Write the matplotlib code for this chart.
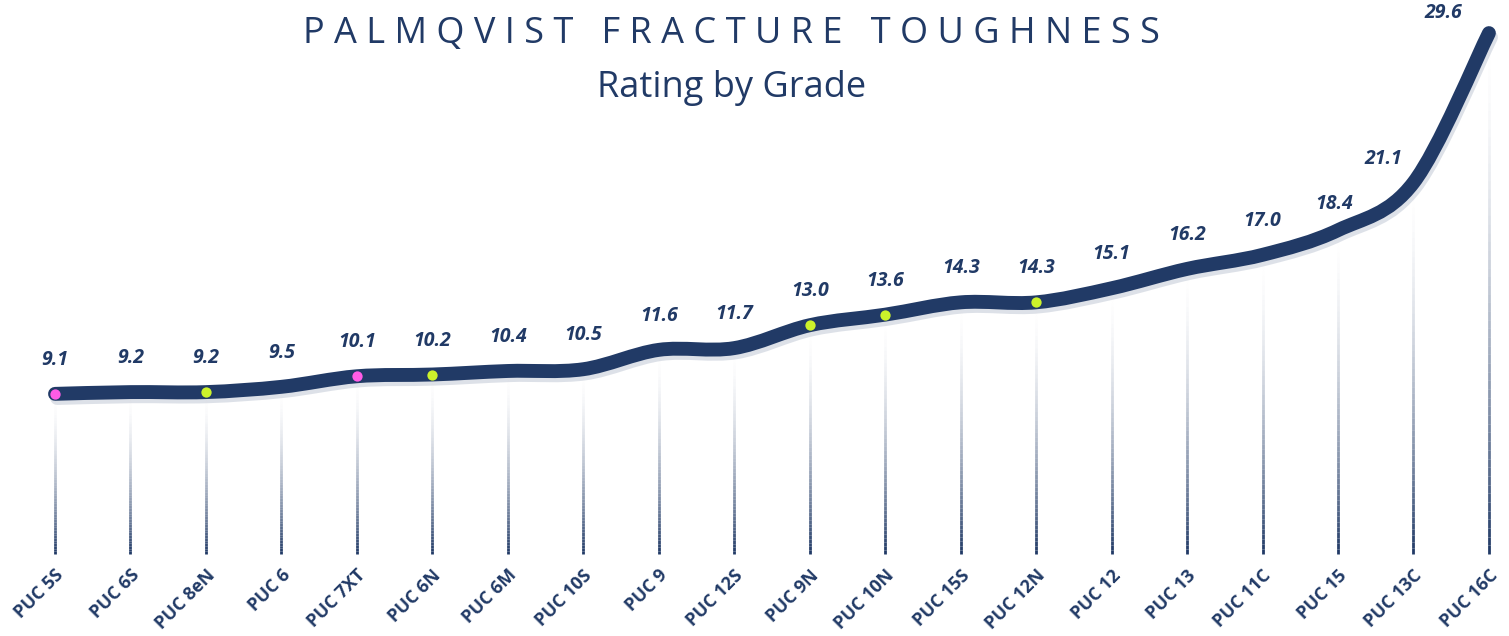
import matplotlib.pyplot as plt
import matplotlib.patheffects as pe
from matplotlib.path import Path
from matplotlib.patches import PathPatch
from matplotlib.collections import LineCollection
import numpy as np

# Palmqvist fracture toughness by grade
grades = ['PUC 5S', 'PUC 6S', 'PUC 8eN', 'PUC 6', 'PUC 7XT', 'PUC 6N', 'PUC 6M',
          'PUC 10S', 'PUC 9', 'PUC 12S', 'PUC 9N', 'PUC 10N', 'PUC 15S', 'PUC 12N',
          'PUC 12', 'PUC 13', 'PUC 11C', 'PUC 15', 'PUC 13C', 'PUC 16C']
toughness = [9.1, 9.2, 9.2, 9.5, 10.1, 10.2, 10.4, 10.5, 11.6, 11.7,
             13.0, 13.6, 14.3, 14.3, 15.1, 16.2, 17.0, 18.4, 21.1, 29.6]
pink_marks = [0, 4]
green_marks = [2, 5, 10, 11, 13]

navy = '#213a66'
pink = '#ff5ce6'
lime = '#ccf22b'
fonts = ['Open Sans', 'DejaVu Sans']

fig = plt.figure(figsize=(15.09, 6.36), dpi=100)
ax = fig.add_axes([0, 0, 1, 1])
ax.set_xlim(-0.729, 19.266)
ax.set_ylim(-4.659, 31.48)
ax.axis('off')

x = np.arange(len(toughness))
y = np.array(toughness)

# faded drop lines from the baseline up to each point
for xi, yi in zip(x, y):
    n = 60
    ys = np.linspace(0, yi, n + 1)
    segs = [[(xi, ys[k]), (xi, ys[k + 1])] for k in range(n)]
    alphas = np.linspace(1, 0, n) ** 1.8
    cols = [(0x21 / 255, 0x3a / 255, 0x66 / 255, a) for a in alphas]
    ax.add_collection(LineCollection(segs, colors=cols, linewidths=2, zorder=1))

# smooth line (catmull-rom -> bezier)
pts = np.column_stack([x, y]).astype(float)
verts = [tuple(pts[0])]
codes = [Path.MOVETO]
for i in range(len(pts) - 1):
    p0 = pts[i - 1] if i > 0 else pts[i]
    p1, p2 = pts[i], pts[i + 1]
    p3 = pts[i + 2] if i + 2 < len(pts) else pts[i + 1]
    c1 = p1 + (p2 - p0) / 6
    c2 = p2 - (p3 - p1) / 6
    verts += [tuple(c1), tuple(c2), tuple(p2)]
    codes += [Path.CURVE4] * 3
curve = PathPatch(Path(verts, codes), facecolor='none', edgecolor=navy, lw=10,
                  capstyle='round', joinstyle='round', zorder=3)
curve.set_path_effects([pe.SimpleLineShadow(offset=(1.5, -3), alpha=0.15, shadow_color=navy),
                        pe.Normal()])
ax.add_patch(curve)

ax.scatter(x[pink_marks], y[pink_marks], s=55, color=pink, zorder=4, linewidths=0)
ax.scatter(x[green_marks], y[green_marks], s=55, color=lime, zorder=4, linewidths=0)

# value labels
label_shift = {17: (-0.05, -8), 18: (-0.4, -10), 19: (-0.6, -14)}
px = 17.6  # pixels per unit
for i, (xi, yi) in enumerate(zip(x, y)):
    dx, dy = label_shift.get(i, (0, 0))
    ax.text(xi + dx, yi + (34 + dy) / px, f'{yi:.1f}', ha='center', va='center',
            fontsize=14, fontweight='bold', fontstyle='italic', color=navy,
            family=fonts, zorder=5)

# category labels
for xi, g in zip(x, grades):
    ax.text(xi + 0.08, -1.05, g, rotation=45, rotation_mode='anchor', ha='right', va='center',
            fontsize=13, fontweight='bold', color=navy, family=fonts)

title = '   '.join(' '.join(w) for w in ['PALMQVIST', 'FRACTURE', 'TOUGHNESS'])
fig.text(0.485, 0.946, title, ha='center', va='center', fontsize=26, color=navy, family=fonts)
fig.text(0.485, 0.862, 'Rating by Grade', ha='center', va='center', fontsize=26,
         color=navy, family=fonts)

fig.savefig('out.png', dpi=100, facecolor='white')
